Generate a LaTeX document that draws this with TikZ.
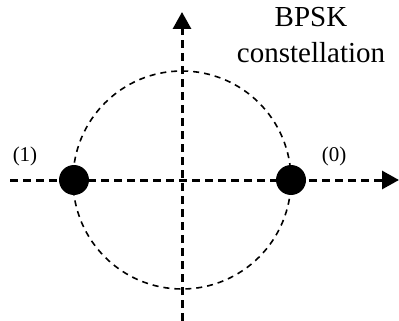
\documentclass[tikz,border=0pt]{standalone}
\usepackage{fontspec}
\setmainfont{Liberation Serif}
\usepackage{xcolor}
\usetikzlibrary{arrows.meta}
\tikzset{
  axis/.style  = {line width=3pt, dash pattern=on 8pt off 5pt, -{Triangle[length=17pt,width=18pt]}},
  ring/.style  = {line width=1.6pt, dash pattern=on 6pt off 5pt},
  dot/.style   = {circle, fill=black, inner sep=0pt, minimum size=30pt},
  bit/.style   = {inner sep=0pt, font=\fontsize{21}{25}\selectfont},
  title/.style = {inner sep=0pt, align=center, font=\fontsize{29}{36}\selectfont},
}
\begin{document}
\begin{tikzpicture}[x=1pt,y=-1pt]
  \useasboundingbox (0,0) rectangle (399,321);
  \coordinate (o) at (182,180);
  \coordinate (west) at (10,180);
  \coordinate (east) at (399,180);
  \coordinate (north) at (182,12);
  \coordinate (south) at (182,321);
  % unit circle
  \draw[ring] (o) circle[radius=109pt];
  % axes
  \draw[axis] (west) -- (east);
  \draw[axis] (south) -- (north);
  % symbols
  \node[dot] (one) at (74,180) {};
  \node[dot] (zero) at (291,180) {};
  \node[bit] (onelbl) at (25,156) {(1)};
  \node[bit] (zerolbl) at (334,156) {(0)};
  \node[title, anchor=north] (name) at (311,7) {BPSK\\constellation};
\end{tikzpicture}
\end{document}
